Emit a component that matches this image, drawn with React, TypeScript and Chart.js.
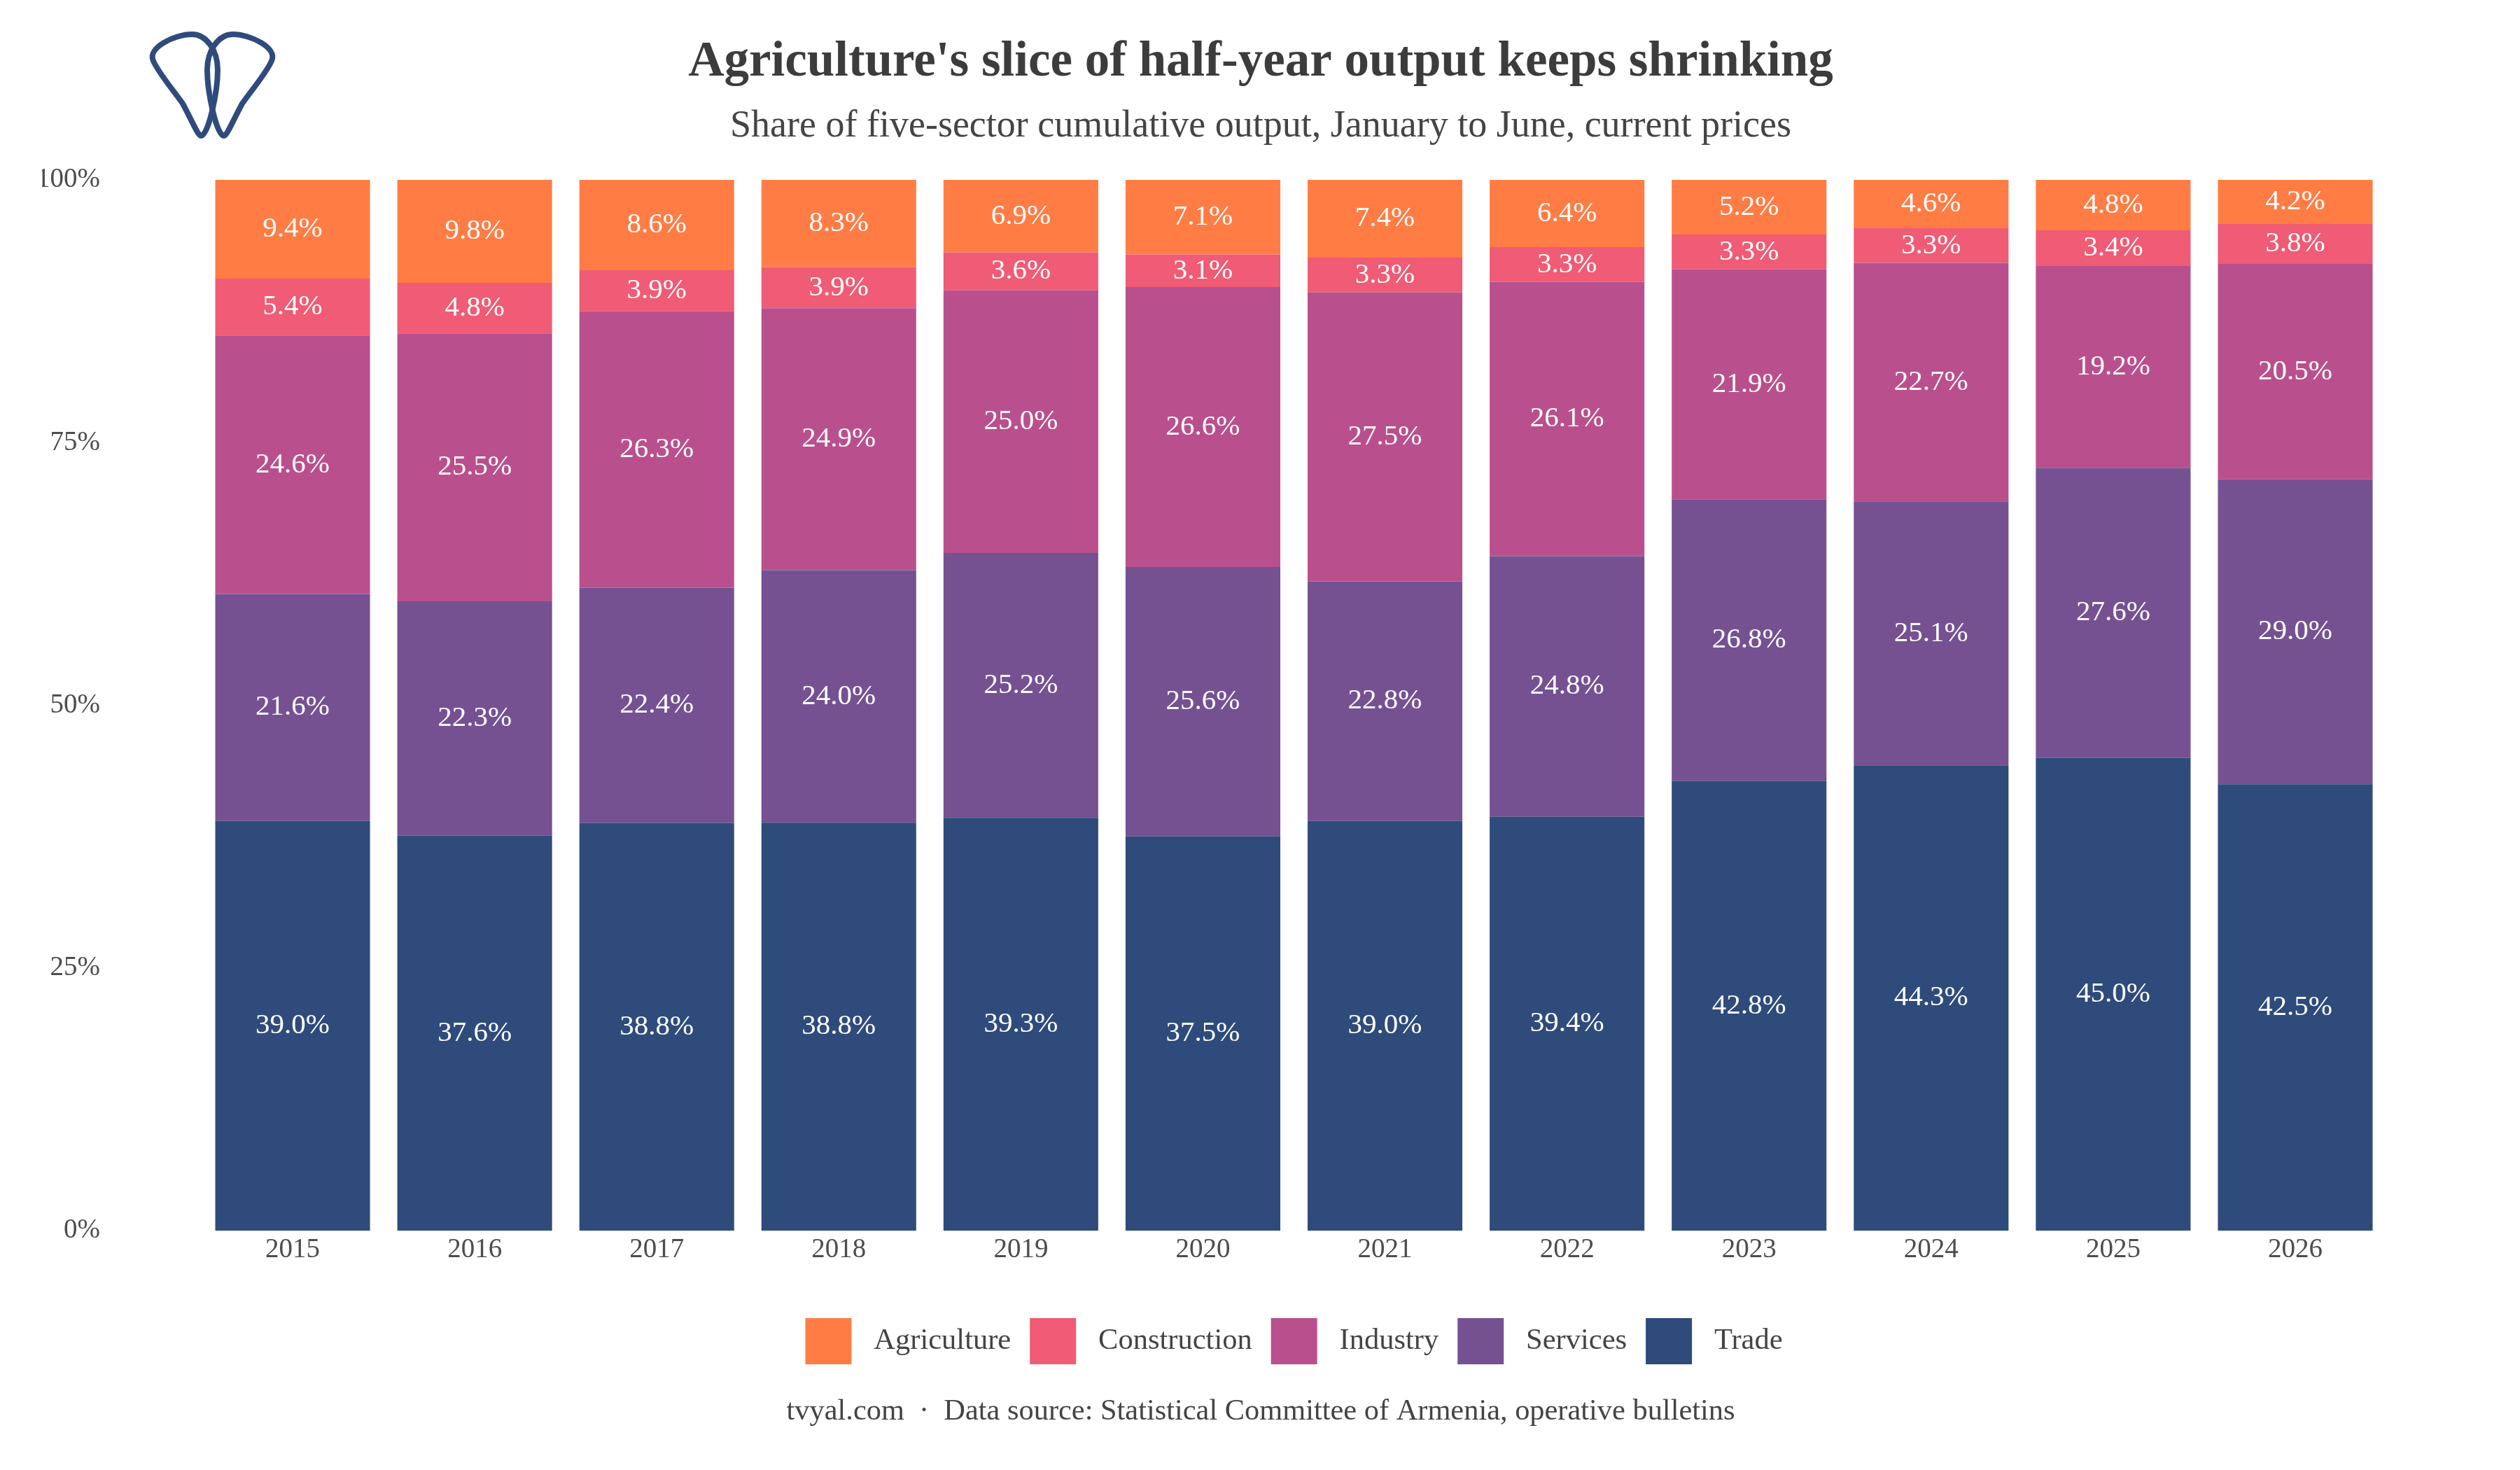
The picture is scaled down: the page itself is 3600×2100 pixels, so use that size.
import { useEffect, useRef } from "react";
import { Chart, registerables } from "chart.js";

Chart.register(...registerables);

const FONT = "'Liberation Serif', serif";

const YEARS = ["2015", "2016", "2017", "2018", "2019", "2020", "2021", "2022", "2023", "2024", "2025", "2026"];
const TRADE = [39.0, 37.6, 38.8, 38.84, 39.3, 37.54, 39.0, 39.4, 42.8, 44.3, 45.0, 42.5];
const SERVICES = [21.6, 22.3, 22.4, 24.03, 25.2, 25.63, 22.8, 24.8, 26.8, 25.1, 27.6, 29.0];
const INDUSTRY = [24.6, 25.5, 26.3, 24.93, 25.0, 26.63, 27.5, 26.1, 21.9, 22.7, 19.2, 20.5];
const CONSTRUCTION = [5.4, 4.8, 3.9, 3.9, 3.6, 3.1, 3.3, 3.3, 3.3, 3.3, 3.4, 3.8];
const AGRICULTURE = [9.4, 9.8, 8.6, 8.3, 6.9, 7.1, 7.4, 6.4, 5.2, 4.6, 4.8, 4.2];

const TITLE = "Agriculture's slice of half-year output keeps shrinking";
const SUBTITLE = "Share of five-sector cumulative output, January to June, current prices";
const FOOTER = "tvyal.com  \u00b7  Data source: Statistical Committee of Armenia, operative bulletins";

const LOGO_PATH =
  "M287 194 C283 194 274 172 261 148 C247 128 227 105 219 87 C210 68 250 49 274 49 C295 49 311 72 311 100 C311 130 298 194 287 194 Z";

const segmentLabels = {
  id: "segmentLabels",
  afterDatasetsDraw(chart: Chart) {
    const { ctx } = chart;
    ctx.save();
    ctx.fillStyle = "#ffffff";
    ctx.font = `41px ${FONT}`;
    ctx.textAlign = "center";
    ctx.textBaseline = "middle";
    chart.data.datasets.forEach((ds, i) => {
      chart.getDatasetMeta(i).data.forEach((bar: any, j) => {
        const { x, y, base } = bar.getProps(["x", "y", "base"], true);
        ctx.fillText(`${(ds.data[j] as number).toFixed(1)}%`, x, (y + base) / 2);
      });
    });
    ctx.restore();
  },
};

const pageText = {
  id: "pageText",
  afterLayout(chart: Chart) {
    // title and subtitle are centred on the page, not between the paddings
    chart.boxes.forEach((box: any) => {
      if (box.position === "top") {
        box.left += 66.5;
        box.right += 66.5;
      }
    });
  },
  afterDraw(chart: Chart) {
    const { ctx } = chart;
    ctx.save();
    ctx.fillStyle = "#444444";
    ctx.font = `42.4px ${FONT}`;
    ctx.textAlign = "center";
    ctx.textBaseline = "alphabetic";
    ctx.fillText(FOOTER, 1801, 2028);
    ctx.restore();
  },
};

export default function App() {
  const canvasRef = useRef<HTMLCanvasElement>(null);

  useEffect(() => {
    if (!canvasRef.current) return;
    const chart = new Chart(canvasRef.current, {
      type: "bar",
      data: {
        labels: YEARS,
        datasets: [
          { label: "Trade", data: TRADE, backgroundColor: "#2E4B7B" },
          { label: "Services", data: SERVICES, backgroundColor: "#755192" },
          { label: "Industry", data: INDUSTRY, backgroundColor: "#B9508D" },
          { label: "Construction", data: CONSTRUCTION, backgroundColor: "#F05B75" },
          { label: "Agriculture", data: AGRICULTURE, backgroundColor: "#FF7D45" },
        ],
      },
      options: {
        responsive: false,
        animation: false,
        devicePixelRatio: 1,
        layout: { padding: { left: 60, right: 191, top: 0, bottom: 141 } },
        datasets: { bar: { categoryPercentage: 1, barPercentage: 0.85 } },
        plugins: {
          tooltip: { enabled: false },
          title: {
            display: true,
            text: TITLE,
            color: "#3c3c3c",
            font: { family: FONT, size: 71, weight: "bold", lineHeight: 1.2 },
            padding: { top: 47, bottom: 16 },
          },
          subtitle: {
            display: true,
            text: SUBTITLE,
            color: "#444444",
            font: { family: FONT, size: 54, lineHeight: 1.2 },
            padding: { top: 0, bottom: 44 },
          },
          legend: {
            position: "bottom",
            fullSize: false,
            reverse: true,
            labels: {
              boxWidth: 66,
              boxHeight: 66,
              padding: 27,
              color: "#444444",
              font: { family: FONT, size: 42.5 },
              generateLabels: (c: Chart) =>
                Chart.defaults.plugins.legend.labels
                  .generateLabels(c)
                  .map((item) => ({ ...item, text: " " + item.text })),
            },
          },
        },
        scales: {
          x: {
            stacked: true,
            grid: { display: false, drawTicks: false },
            border: { display: false },
            afterFit: (axis) => {
              axis.height += 43;
            },
            ticks: { color: "#4d4d4d", padding: 4, font: { family: FONT, size: 39 } },
          },
          y: {
            stacked: true,
            min: 0,
            max: 100,
            grid: { display: false, drawTicks: false },
            border: { display: false },
            afterFit: (axis) => {
              axis.width = 228;
            },
            ticks: {
              stepSize: 25,
              color: "#4d4d4d",
              padding: 145,
              font: { family: FONT, size: 39 },
              callback: (v) => `${v}%`,
            },
          },
        },
      },
      plugins: [segmentLabels, pageText],
    });
    return () => chart.destroy();
  }, []);

  return (
    <div style={{ position: "absolute", left: 0, top: 0, width: 3600, height: 2100, background: "#ffffff" }}>
      <canvas ref={canvasRef} width={3600} height={2100} role="img" aria-label={TITLE} />
      <svg width={3600} height={300} style={{ position: "absolute", left: 0, top: 0 }}>
        <g fill="none" stroke="#2E4B7B" strokeWidth={8}>
          <path d={LOGO_PATH} />
          <path d={LOGO_PATH} transform="translate(607 0) scale(-1 1)" />
        </g>
      </svg>
    </div>
  );
}
